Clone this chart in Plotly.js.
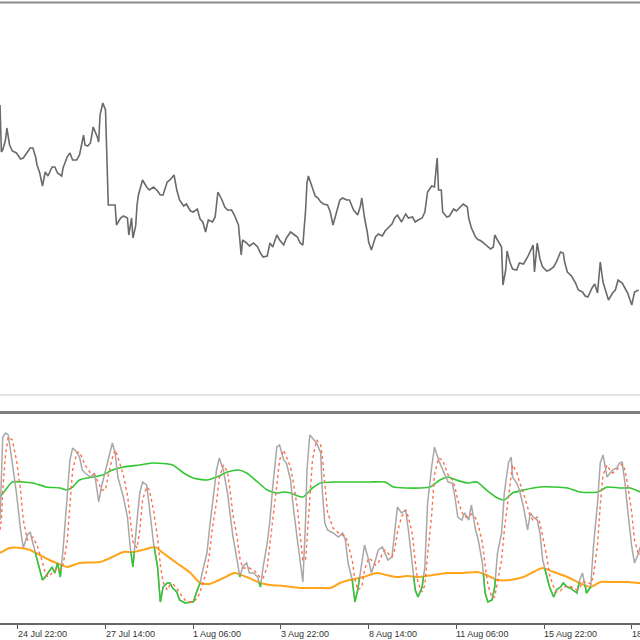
<!DOCTYPE html>
<html>
<head>
<meta charset="utf-8">
<script src="https://cdn.plot.ly/plotly-3.0.1.min.js"></script>
<style>html,body{margin:0;padding:0;background:#fff;}#chart{width:640px;height:640px;}</style>
</head>
<body>
<div id="chart"></div>
<script>
// Hourly bar index (trading hours only) and price readings (points)
const priceBar = [0,1,2,4,5,7,9,12,15,17,20,22,24,26,27,29,31,33,35,38,40,42,45,46,49,51,53,56,58,61,62,64,66,68,71,72,73,75,77,78,79,82,84,85,88,90,93,94,96,97,99,100,101,104,107,109,112,115,117,119,122,124,127,129,131,134,136,139,141,144,146,148,150,152,155,157,159,162,164,166,169,171,174,176,177,180,182,185,188,190,192,195,197,199,202,204,207,209,212,214,217,219,221,223,224,225,228,230,232,234,236,239,241,243,246,248,250,253,255,258,261,263,264,266,268,269,271,274,276,279,281,283,286,288,290,293,296,298,301,303,305,308,310,312,315,317,319,320,322,323,326,328,331,333,336,338,341,342,344,347,349,350,352,355,358,360,361,363,366,367,369,370,372,374,377,379,382,385,387,389,390,392,394,396,399,401,404,406,409,411,412,414,417,420,422,425,427,429,432,434,436,438,440,441,444,447,449,451,454,456,458,461,463,466];
const priceVal = [295,248,250,260,272,255,249,247,241,242,248,252,252,243,235,227,214,228,224,233,233,227,224,232,243,247,240,240,245,265,255,254,257,273,263,258,285,297,290,235,195,195,195,175,182,184,182,165,182,162,174,195,205,220,213,210,213,209,205,205,218,220,225,210,200,194,196,189,188,191,181,178,168,180,178,183,208,200,193,190,190,185,175,145,160,157,154,157,153,147,143,144,157,153,165,160,155,162,168,166,163,157,155,190,217,224,212,204,202,198,196,195,188,175,190,200,202,200,200,190,185,194,202,182,168,158,150,163,166,164,169,172,176,182,185,178,186,182,183,178,180,182,188,208,214,213,242,210,210,188,183,184,191,189,193,196,193,182,172,163,160,160,158,154,151,153,165,160,153,115,130,149,138,131,130,137,136,143,150,155,128,157,141,133,129,130,133,138,148,147,138,128,124,117,110,108,104,103,112,116,107,138,118,113,100,107,110,120,117,112,107,95,108,110];

// Oscillator panel
const oscBar = [0,1,2,4,6,9,12,15,17,20,22,24,27,31,33,35,38,40,42,44,46,49,51,53,56,58,60,62,66,69,72,74,77,79,82,84,86,90,93,95,97,100,102,104,107,109,112,115,117,119,122,124,126,129,131,135,139,141,144,146,148,151,153,155,158,160,163,166,168,170,173,175,177,180,182,185,188,190,192,195,197,199,202,204,207,209,212,214,217,219,221,223,224,226,228,231,234,235,237,239,243,247,250,252,254,257,259,261,264,266,269,271,274,276,279,281,283,286,288,290,293,296,298,301,303,305,308,310,312,315,317,320,323,325,327,330,332,334,337,339,342,344,347,349,352,354,356,359,361,363,366,368,371,373,374,377,379,382,385,387,389,392,394,396,399,401,404,406,409,411,414,416,418,421,423,425,428,431,433,436,438,440,443,445,447,450,452,454,456,458,461,463,466,467];
const oscMain = [100,150,183,187,185,157,127,90,72,85,88,77,60,40,43,47,53,47,57,43,70,123,160,172,168,163,150,147,143,147,118,133,150,163,177,167,143,123,103,73,53,100,127,138,135,113,77,53,18,33,37,37,32,28,20,17,18,18,30,37,50,67,93,117,150,162,150,127,103,83,60,43,53,57,47,47,43,33,53,77,100,133,173,175,160,157,140,113,80,57,38,100,150,185,182,177,167,133,97,90,87,83,87,80,57,40,18,30,57,75,60,47,60,70,73,67,60,63,90,113,107,110,90,53,30,23,33,53,117,153,173,160,150,145,138,137,123,103,100,107,100,115,90,80,57,27,18,20,33,67,87,127,157,163,143,137,130,113,90,107,103,100,87,60,43,33,23,30,33,37,33,32,30,27,40,47,27,33,73,117,157,165,143,147,150,152,157,158,137,110,73,57,67,73];
const oscSignal = [90,100,130,165,183,180,160,130,100,80,82,83,75,58,47,43,47,50,52,50,55,78,115,150,167,168,162,155,147,145,137,130,130,145,162,170,163,145,125,100,78,72,90,120,133,130,110,82,55,38,30,35,36,32,27,20,18,18,22,28,37,50,68,92,118,142,155,148,128,105,83,62,52,52,52,50,46,42,42,53,75,100,135,160,170,163,153,138,112,85,60,60,80,125,160,180,175,165,135,108,92,87,85,84,76,60,40,30,33,50,62,60,55,57,66,70,67,63,70,88,103,110,103,85,58,37,28,35,65,105,145,162,160,152,145,140,133,120,108,103,103,106,102,95,77,55,35,22,23,38,60,90,123,150,155,148,138,127,112,103,100,103,97,83,63,45,33,28,29,33,34,34,32,30,32,38,38,36,44,75,115,145,155,150,147,150,153,156,150,135,107,80,65,66];
const upperBar = [0,4,9,17,24,34,44,49,53,58,68,75,82,90,102,112,126,134,141,151,158,166,174,180,188,195,202,207,212,221,228,234,246,258,270,281,287,297,306,314,321,327,333,341,348,355,363,368,374,382,394,404,414,423,436,443,452,460,467];
const upperVal = [123,130,138,138,137,133,132,130,133,140,143,145,150,153,155,157,155,147,142,140,143,148,150,147,138,130,127,128,127,123,132,137,138,138,138,138,133,132,132,133,140,143,140,137,138,130,122,120,127,130,133,133,132,128,128,133,132,132,128];
const lowerBar = [0,7,15,22,29,36,45,49,58,73,82,90,97,104,113,119,129,139,146,153,163,171,180,190,197,207,219,234,241,248,255,265,275,282,290,297,306,316,326,338,348,355,363,372,382,389,396,404,414,423,431,438,447,458,465,467];
const lowerVal = [67,72,72,70,65,60,55,53,57,58,63,68,68,70,73,67,57,47,37,36,42,47,43,37,35,34,32,32,32,37,40,43,47,45,43,44,43,45,47,47,48,45,40,40,43,48,52,48,43,37,33,38,38,38,37,37];

const tickBars = [13,77,141,205,269,333,397,461];
const tickLabels = ['24 Jul 22:00','27 Jul 14:00','1 Aug 06:00','3 Aug 22:00','8 Aug 14:00','11 Aug 06:00','15 Aug 22:00','18 Aug 14:00'];

// linear interpolation of the lower band
function lowerAt(b){
  for(let i=0;i<lowerBar.length-1;i++){
    if(b>=lowerBar[i] && b<=lowerBar[i+1]){
      const t=(b-lowerBar[i])/(lowerBar[i+1]-lowerBar[i]);
      return lowerVal[i]+t*(lowerVal[i+1]-lowerVal[i]);
    }
  }
  return lowerVal[lowerVal.length-1];
}
// part of the main line below the lower band (drawn green)
const ovX=[], ovY=[];
for(let i=0;i<oscBar.length;i++){
  const da=oscMain[i]-lowerAt(oscBar[i]);
  if(da<0){ovX.push(oscBar[i]);ovY.push(oscMain[i]);}
  if(i<oscBar.length-1){
    const db=oscMain[i+1]-lowerAt(oscBar[i+1]);
    if((da<0)!==(db<0)){
      const t=da/(da-db);
      ovX.push(oscBar[i]+t*(oscBar[i+1]-oscBar[i]));
      ovY.push(oscMain[i]+t*(oscMain[i+1]-oscMain[i]));
      if(da<0){ovX.push(null);ovY.push(null);}
    }
  }
}

const traces = [
  {x:priceBar,y:priceVal,xaxis:'x2',yaxis:'y2',mode:'lines',line:{color:'#6a6a6a',width:1.6},hoverinfo:'skip'},
  {x:upperBar,y:upperVal,xaxis:'x',yaxis:'y',mode:'lines',line:{color:'#33c633',width:1.6,shape:'spline',smoothing:0.6},hoverinfo:'skip'},
  {x:lowerBar,y:lowerVal,xaxis:'x',yaxis:'y',mode:'lines',line:{color:'#ffa319',width:2,shape:'spline',smoothing:0.6},hoverinfo:'skip'},
  {x:oscBar,y:oscMain,xaxis:'x',yaxis:'y',mode:'lines',line:{color:'#a8a8a8',width:1.5},hoverinfo:'skip'},
  {x:ovX,y:ovY,xaxis:'x',yaxis:'y',mode:'lines',line:{color:'#33c633',width:1.5},connectgaps:false,hoverinfo:'skip'},
  {x:oscBar,y:oscSignal,xaxis:'x',yaxis:'y',mode:'lines',line:{color:'#ff7050',width:1.4,dash:'dot'},hoverinfo:'skip'}
];

const annotations = tickBars.map((b,i)=>({
  x:b, xref:'x', y:(640-627)/640, yref:'paper', yanchor:'top', xanchor:'left', xshift:-2,
  text:tickLabels[i], showarrow:false, font:{family:'Liberation Sans, Arial, sans-serif', size:9, color:'#333'}
}));

const layout = {
  width:640, height:640, margin:{l:0,r:0,t:0,b:0},
  paper_bgcolor:'#ffffff', plot_bgcolor:'#ffffff', showlegend:false,
  xaxis:{domain:[0,1], range:[0,467], anchor:'y', tickvals:tickBars, ticks:'outside', ticklen:4, tickwidth:1, tickcolor:'#555',
         showticklabels:false, showgrid:false, zeroline:false, showline:true, linecolor:'#666', linewidth:2, fixedrange:true},
  yaxis:{domain:[17/640, 225/640], range:[-3,205], visible:false, fixedrange:true},
  xaxis2:{domain:[0,1], range:[0,467], anchor:'y2', visible:false},
  yaxis2:{domain:[229/640, 637/640], range:[-11,397], visible:false},
  shapes:[
    {type:'line', xref:'paper', yref:'paper', x0:0, x1:1, y0:(640-2.5)/640, y1:(640-2.5)/640, line:{color:'#8a8a8a', width:2}},
    {type:'line', xref:'paper', yref:'paper', x0:0, x1:1, y0:(640-412.5)/640, y1:(640-412.5)/640, line:{color:'#7d7d7d', width:3}},
    {type:'line', xref:'paper', yref:'y2', x0:0, x1:1, y0:5, y1:5, line:{color:'#e4e4e4', width:2}}
  ],
  annotations:annotations
};

Plotly.newPlot('chart', traces, layout, {staticPlot:true, displayModeBar:false});
</script>
</body>
</html>
